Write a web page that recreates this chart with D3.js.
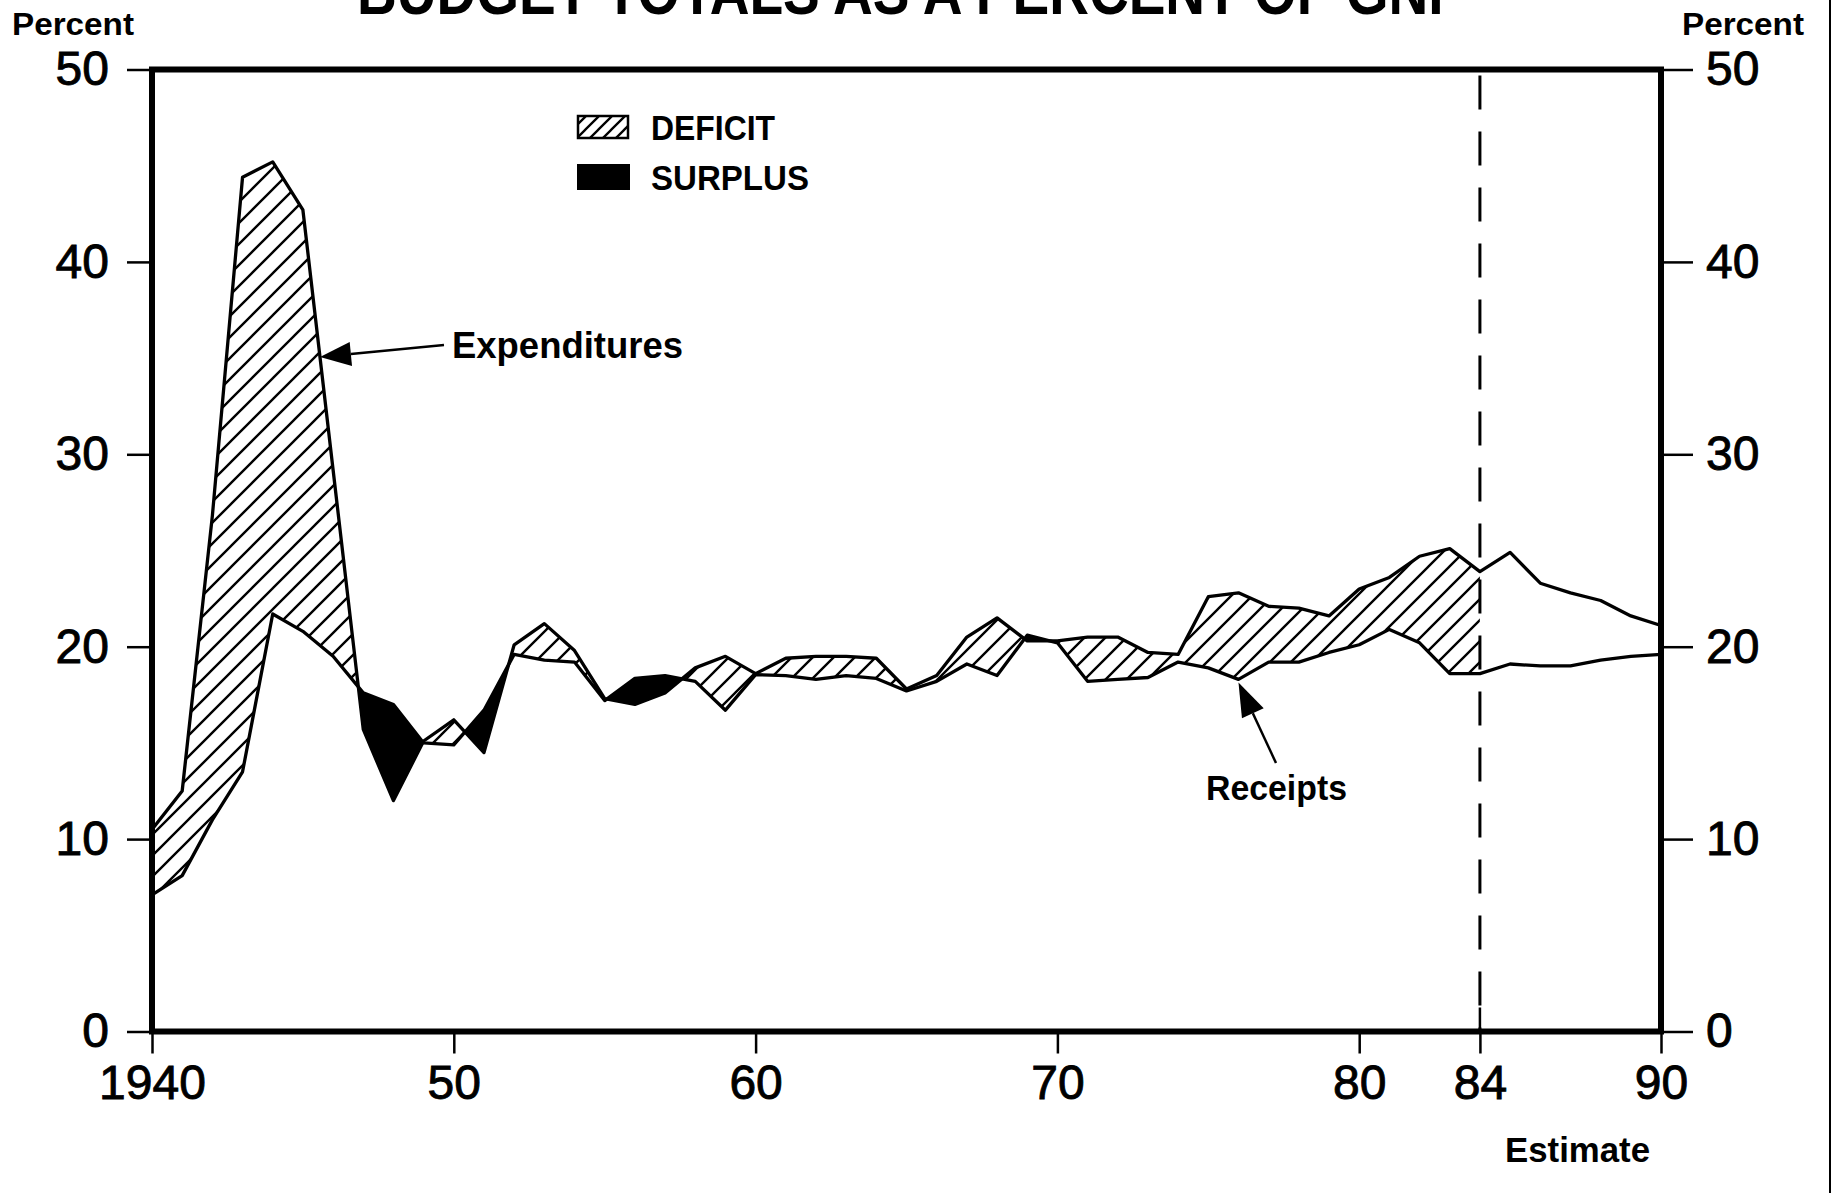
<!DOCTYPE html>
<html>
<head>
<meta charset="utf-8">
<script src="https://cdn.jsdelivr.net/npm/d3@7"></script>
<style>
  html, body { margin: 0; padding: 0; background: #fff; }
  svg { display: block; }
  text { font-family: "Liberation Sans", Arial, sans-serif; fill: #000; }
</style>
</head>
<body>
<svg id="chart" width="1832" height="1193"></svg>
<script>
// ---- data (percent of GNP) ----
const years = [1940,1941,1942,1943,1944,1945,1946,1947,1948,1949,
               1950,1951,1952,1953,1954,1955,1956,1957,1958,1959,
               1960,1961,1962,1963,1964,1965,1966,1967,1968,1969,
               1970,1971,1972,1973,1974,1975,1976,1977,1978,1979,
               1980,1981,1982,1983,1984,1985,1986,1987,1988,1989,1990];
const expenditures = [10.5,12.5,26.8,44.4,45.2,42.7,29.2,15.7,12.0,15.1,
                      16.2,14.5,20.1,21.2,19.8,17.3,17.0,17.6,18.9,19.5,
                      18.6,19.4,19.5,19.5,19.4,17.8,18.5,20.5,21.5,20.3,
                      20.3,20.5,20.5,19.7,19.6,22.6,22.8,22.1,22.0,21.6,
                      23.0,23.6,24.7,25.1,23.9,24.9,23.3,22.8,22.4,21.6,21.1];
const receipts = [7.1,8.1,11.0,13.5,21.7,20.8,19.5,17.6,17.0,15.0,
                  14.9,16.7,19.6,19.3,19.2,17.2,18.35,18.5,18.2,16.7,
                  18.55,18.5,18.3,18.5,18.35,17.7,18.2,19.1,18.5,20.6,
                  20.2,18.2,18.3,18.4,19.2,18.9,18.3,19.2,19.2,19.7,
                  20.1,20.9,20.2,18.6,18.6,19.1,19.0,19.0,19.3,19.5,19.6];
const yTicks = [0,10,20,30,40,50];
const xTicks = [1940,1950,1960,1970,1980,1984,1990];
const xTickLabels = ["1940","50","60","70","80","84","90"];
const estimateYear = 1984;
const titleText = "BUDGET TOTALS AS A PERCENT OF GNP";
const legendLabels = ["DEFICIT","SURPLUS"];

(function draw() {
const data = years.map((yr,i) => ({year: yr, exp: expenditures[i], rec: receipts[i]}));
const actual = data.filter(d => d.year <= estimateYear);

const svg = d3.select("#chart");
const x = d3.scaleLinear().domain([1940,1990]).range([152,1661]);
const y = d3.scaleLinear().domain([0,50]).range([1031.5,69.5]);
const pL = x(1940), pR = x(1990), pT = y(50), pB = y(0);

const defs = svg.append("defs");
function hatch(id, s, w) {
  const p = defs.append("pattern").attr("id", id).attr("patternUnits","userSpaceOnUse")
    .attr("width", s).attr("height", s);
  p.append("rect").attr("width", s).attr("height", s).attr("fill","#fff");
  p.append("path").attr("d", `M${-s/2},${s/2} L${s/2},${-s/2} M0,${s} L${s},0 M${s/2},${s*1.5} L${s*1.5},${s/2}`)
    .attr("stroke","#000").attr("stroke-width", w);
}
hatch("hatch", 21, 2.4);
hatch("hatchSmall", 13, 2.3);

const aboveArea = key => d3.area().x(d => x(d.year)).y0(pT - 5).y1(d => y(d[key]));
defs.append("clipPath").attr("id","aboveRec").append("path").attr("d", aboveArea("rec")(actual));
defs.append("clipPath").attr("id","aboveExp").append("path").attr("d", aboveArea("exp")(actual));

const between = d3.area().x(d => x(d.year)).y0(d => y(d.rec)).y1(d => y(d.exp));
svg.append("path").attr("d", between(actual)).attr("fill","url(#hatch)").attr("clip-path","url(#aboveRec)");
svg.append("path").attr("d", between(actual)).attr("fill","#000").attr("clip-path","url(#aboveExp)");

const line = key => d3.line().x(d => x(d.year)).y(d => y(d[key]));
svg.append("path").attr("d", line("exp")(data)).attr("fill","none").attr("stroke","#000")
  .attr("stroke-width",3.3).attr("stroke-linejoin","round");
svg.append("path").attr("d", line("rec")(data)).attr("fill","none").attr("stroke","#000")
  .attr("stroke-width",3.3).attr("stroke-linejoin","round");

svg.append("line").attr("x1", x(estimateYear)).attr("x2", x(estimateYear))
  .attr("y1", pT + 6).attr("y2", pB)
  .attr("stroke","#000").attr("stroke-width",3).attr("stroke-dasharray","34 22");

const styleAxis = g => {
  g.select(".domain").remove();
  g.selectAll(".tick line").attr("stroke","#000").attr("stroke-width",2.5);
  g.selectAll(".tick text").style("font-size","48px").style("font-family","'Liberation Sans', Arial, sans-serif")
    .attr("fill","#000").attr("stroke","#000").attr("stroke-width",0.9);
};
svg.append("g").attr("transform",`translate(${pL},0)`)
  .call(d3.axisLeft(y).tickValues(yTicks).tickSize(25).tickPadding(18).tickFormat(d3.format("d")))
  .call(styleAxis);
svg.append("g").attr("transform",`translate(${pR},0)`)
  .call(d3.axisRight(y).tickValues(yTicks).tickSize(32).tickPadding(13).tickFormat(d3.format("d")))
  .call(styleAxis);
svg.append("g").attr("transform",`translate(0,${pB})`)
  .call(d3.axisBottom(x).tickValues(xTicks).tickSize(22).tickPadding(11).tickFormat((d,i) => xTickLabels[i]))
  .call(styleAxis);
svg.append("line").attr("x1", x(estimateYear)).attr("x2", x(estimateYear))
  .attr("y1", pB - 24).attr("y2", pB).attr("stroke","#000").attr("stroke-width",2.5);

svg.append("rect").attr("x", pL).attr("y", pT).attr("width", pR-pL).attr("height", pB-pT)
  .attr("fill","none").attr("stroke","#000").attr("stroke-width",6);

svg.append("text").attr("x", 357).attr("y", 14).attr("textLength", 1108).attr("lengthAdjust","spacingAndGlyphs")
  .style("font-size","64px").style("font-weight","bold").text(titleText);
svg.append("text").attr("x", 12).attr("y", 35).attr("textLength", 122).attr("lengthAdjust","spacingAndGlyphs")
  .style("font-size","32px").style("font-weight","bold").text("Percent");
svg.append("text").attr("x", 1682).attr("y", 35).attr("textLength", 122).attr("lengthAdjust","spacingAndGlyphs")
  .style("font-size","32px").style("font-weight","bold").text("Percent");

svg.append("rect").attr("x",578).attr("y",116).attr("width",50).attr("height",22)
  .attr("fill","url(#hatchSmall)").attr("stroke","#000").attr("stroke-width",2.5);
svg.append("rect").attr("x",577).attr("y",164).attr("width",53).attr("height",26).attr("fill","#000");
svg.append("text").attr("x",651).attr("y",140).attr("textLength",124).attr("lengthAdjust","spacingAndGlyphs")
  .style("font-size","35px").style("font-weight","bold").text(legendLabels[0]);
svg.append("text").attr("x",651).attr("y",190).attr("textLength",158).attr("lengthAdjust","spacingAndGlyphs")
  .style("font-size","35px").style("font-weight","bold").text(legendLabels[1]);

function arrow(x1, y1, x2, y2, headLen, headW) {
  const ang = Math.atan2(y2 - y1, x2 - x1);
  const bx = x2 - headLen*Math.cos(ang), by = y2 - headLen*Math.sin(ang);
  svg.append("line").attr("x1",x1).attr("y1",y1).attr("x2",bx).attr("y2",by)
    .attr("stroke","#000").attr("stroke-width",2.5);
  const px = -Math.sin(ang)*headW/2, py = Math.cos(ang)*headW/2;
  svg.append("path").attr("d",`M${x2},${y2} L${bx+px},${by+py} L${bx-px},${by-py} Z`).attr("fill","#000");
}
svg.append("text").attr("x",452).attr("y",358).attr("textLength",231).attr("lengthAdjust","spacingAndGlyphs")
  .style("font-size","36px").style("font-weight","bold").text("Expenditures");
arrow(444, 345, 320, 357, 31, 24);
svg.append("text").attr("x",1206).attr("y",800).attr("textLength",141).attr("lengthAdjust","spacingAndGlyphs")
  .style("font-size","35px").style("font-weight","bold").text("Receipts");
arrow(1276, 763, x(1976), y(18.3) + 3, 34, 24);
svg.append("text").attr("x",1505).attr("y",1162).attr("textLength",145).attr("lengthAdjust","spacingAndGlyphs")
  .style("font-size","35px").style("font-weight","bold").text("Estimate");

svg.append("line").attr("x1",1830).attr("x2",1830).attr("y1",0).attr("y2",1193).attr("stroke","#000").attr("stroke-width",2);
})();
</script>
</body>
</html>
